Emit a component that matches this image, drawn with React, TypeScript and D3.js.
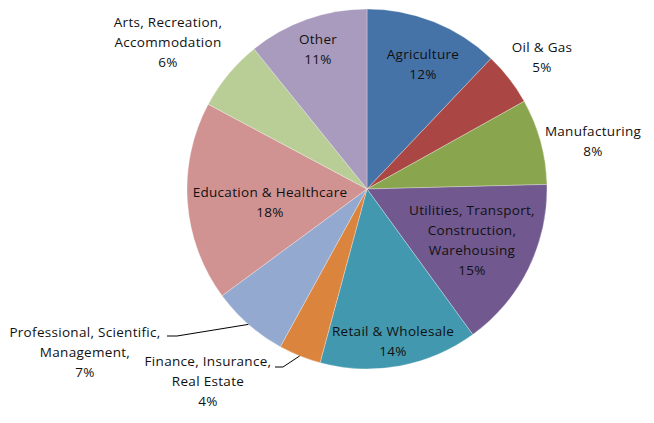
import React from "react";
import * as d3 from "d3";

const categories = [
  "Agriculture",
  "Oil & Gas",
  "Manufacturing",
  "Utilities, Transport, Construction, Warehousing",
  "Retail & Wholesale",
  "Finance, Insurance, Real Estate",
  "Professional, Scientific, Management,",
  "Education & Healthcare",
  "Arts, Recreation, Accommodation",
  "Other",
];
const values = [12.1, 4.8, 7.7, 15.4, 14.2, 3.8, 6.9, 17.9, 6.4, 10.8];
const colors = [
  "#4572A7",
  "#AA4643",
  "#89A54E",
  "#71588F",
  "#4198AF",
  "#DB843D",
  "#93A9CF",
  "#D19392",
  "#B9CD96",
  "#A99BBD",
];
// label text lines (last line is the percentage, added automatically)
const labelLines = [
  ["Agriculture"],
  ["Oil & Gas"],
  ["Manufacturing"],
  ["Utilities, Transport,", "Construction,", "Warehousing"],
  ["Retail & Wholesale"],
  ["Finance, Insurance,", "Real Estate"],
  ["Professional, Scientific,", "Management,"],
  ["Education & Healthcare"],
  ["Arts, Recreation,", "Accommodation"],
  ["Other"],
];

// layout: label anchor (center x, first baseline y)
const labelPos: [number, number][] = [
  [423, 59],
  [542, 52],
  [593, 136],
  [472, 215],
  [393, 336],
  [208, 366],
  [85, 337],
  [270, 197],
  [168, 27],
  [318, 44],
];
// leader lines: [start x, start y, elbow x]
const leaders: Record<number, [number, number, number]> = {
  5: [275, 367, 283],
  6: [167, 336, 177],
};

const W = 654;
const H = 423;
const cx = 367;
const cy = 189;
const R = 180;

export default function App() {
  const pie = d3
    .pie<number>()
    .sort(null)
    .value((d) => d);
  const arcs = pie(values);
  const arc = d3.arc<d3.PieArcDatum<number>>().innerRadius(0).outerRadius(R);
  const total = d3.sum(values);
  const lineH = 20;

  return (
    <svg
      width={W}
      height={H}
      style={{ position: "absolute", left: 0, top: 0, background: "#fff" }}
      fontFamily="'Open Sans', sans-serif"
      fontSize={13.5}
      letterSpacing={0.3}
    >
      <g transform={`translate(${cx},${cy})`}>
        {arcs.map((a, i) => (
          <path key={i} d={arc(a) || ""} fill={colors[i]} stroke="#ffffff" strokeWidth={0.3} />
        ))}
      </g>
      {arcs.map((a, i) => {
        const ld = leaders[i];
        if (!ld) return null;
        const mid = (a.startAngle + a.endAngle) / 2;
        const ex = cx + R * Math.sin(mid);
        const ey = cy - R * Math.cos(mid);
        return (
          <polyline
            key={"l" + i}
            points={`${ld[0]},${ld[1]} ${ld[2]},${ld[1]} ${ex},${ey}`}
            fill="none"
            stroke="#000"
            strokeWidth={1}
          />
        );
      })}
      {labelLines.map((lines, i) => {
        const pct = Math.round((values[i] / total) * 100) + "%";
        const all = [...lines, pct];
        const [x, y] = labelPos[i];
        return (
          <text key={"t" + i} textAnchor="middle" fill="#111">
            {all.map((s, j) => (
              <tspan key={j} x={x} y={y + j * lineH}>
                {s}
              </tspan>
            ))}
          </text>
        );
      })}
    </svg>
  );
}
